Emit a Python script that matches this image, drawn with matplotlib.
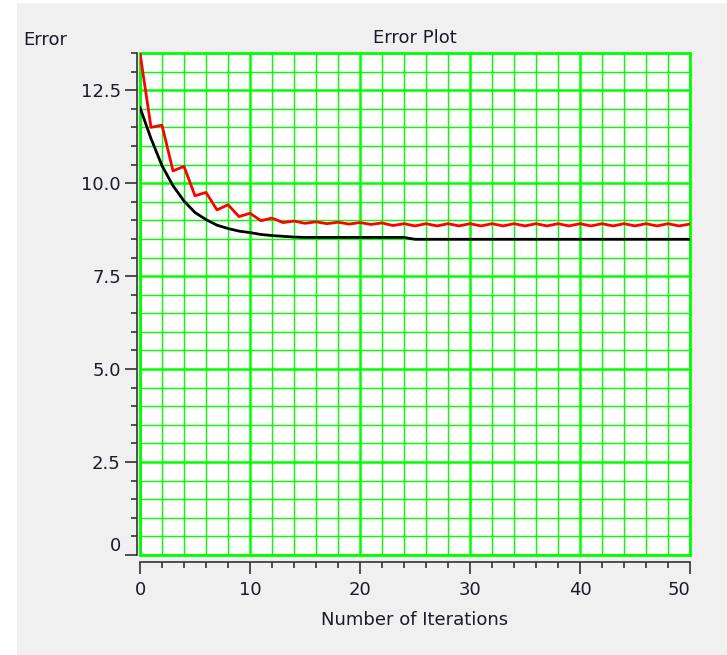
import matplotlib.pyplot as plt
from matplotlib.patches import Rectangle
from matplotlib.ticker import MultipleLocator, FixedLocator

# values
iterations = list(range(51))
red_error = [13.50, 11.50, 11.56, 10.33, 10.45, 9.66, 9.75, 9.28, 9.42, 9.10,
             9.19, 8.99, 9.06, 8.94, 8.98, 8.92, 8.96, 8.91, 8.95, 8.90,
             8.94, 8.89, 8.93, 8.86, 8.91, 8.85, 8.91, 8.85, 8.91, 8.85,
             8.91, 8.85, 8.91, 8.85, 8.91, 8.85, 8.91, 8.85, 8.91, 8.85,
             8.91, 8.85, 8.91, 8.85, 8.91, 8.85, 8.91, 8.85, 8.91, 8.85,
             8.90]
black_error = [12.03, 11.20, 10.47, 9.93, 9.52, 9.21, 9.02, 8.87, 8.78, 8.71,
               8.67, 8.62, 8.59, 8.57, 8.55, 8.54, 8.54, 8.54, 8.54, 8.54,
               8.54, 8.54, 8.54, 8.54, 8.54, 8.49, 8.49, 8.49, 8.49, 8.49,
               8.49, 8.49, 8.49, 8.49, 8.49, 8.49, 8.49, 8.49, 8.49, 8.49,
               8.49, 8.49, 8.49, 8.49, 8.49, 8.49, 8.49, 8.49, 8.49, 8.49,
               8.49]
x_ticks = [0, 10, 20, 30, 40, 50]
y_ticks = [0, 2.5, 5.0, 7.5, 10.0, 12.5]
y_labels = ["0", "2.5", "5.0", "7.5", "10.0", "12.5"]

W, H = 727, 655
FS = 13
TXT = "#1a1a2a"

fig = plt.figure(figsize=(W / 100, H / 100), dpi=100, facecolor="white")
# grey panel behind everything
fig.patches.append(Rectangle((17 / W, 0), 1, 1 - 3 / H, transform=fig.transFigure,
                             facecolor="#f0f0f0", edgecolor="none", zorder=-10))

ax = fig.add_axes([140 / W, 1 - 555 / H, 550 / W, 502 / H])
ax.set_facecolor("white")

ax.plot(iterations, black_error, color="black", lw=2.0, zorder=3)
ax.plot(iterations, red_error, color="#ff0000", lw=2.0, zorder=4)

ax.set_xlim(0, 50)
ax.set_ylim(0, 13.5)
ax.xaxis.set_major_locator(FixedLocator(x_ticks))
ax.xaxis.set_minor_locator(MultipleLocator(2))
ax.yaxis.set_major_locator(FixedLocator(y_ticks))
ax.yaxis.set_minor_locator(MultipleLocator(0.5))
ax.set_yticklabels(y_labels)

ax.grid(which="major", color="#00ff00", lw=1.8)
ax.grid(which="minor", color="#00ff00", lw=1.0)
ax.set_axisbelow(True)

# green frame round the canvas
ax.add_patch(Rectangle((0, 0), 1, 1, transform=ax.transAxes, fill=False,
                       edgecolor="#00ff00", lw=2.0, clip_on=False, zorder=2))

for s in ("top", "right"):
    ax.spines[s].set_visible(False)
ax.spines["left"].set_position(("outward", 2.2))
ax.spines["bottom"].set_position(("outward", 4.8))
for s in ("left", "bottom"):
    ax.spines[s].set_color("#333333")
    ax.spines[s].set_linewidth(1.2)

ax.tick_params(which="major", length=8.6, width=1.2, color="#333333",
               labelsize=FS, labelcolor=TXT)
ax.tick_params(which="minor", length=4.3, width=1.2, color="#333333")
ax.tick_params(axis="y", pad=3)
ax.tick_params(axis="x", pad=5)

# end labels pushed inside the scale, like the original widget does
ax.get_yticklabels()[0].set_va("bottom")
ax.get_xticklabels()[-1].set_ha("right")

ax.set_title("Error Plot", fontsize=FS, color=TXT, pad=7)
ax.set_xlabel("Number of Iterations", fontsize=FS, color=TXT, labelpad=9)
fig.text(23 / W, 1 - 40 / H, "Error", fontsize=FS, color=TXT,
         ha="left", va="center")

fig.savefig("out.png", dpi=100, facecolor=fig.get_facecolor())
